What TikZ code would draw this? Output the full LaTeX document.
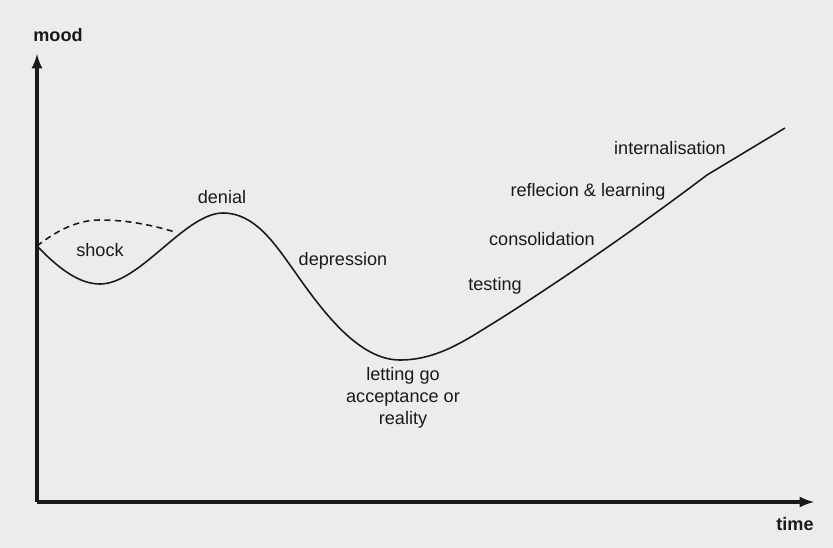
\documentclass[tikz,border=0pt]{standalone}
\usepackage{fontspec}
\setmainfont{Liberation Sans}
\usetikzlibrary{arrows}
\definecolor{paper}{HTML}{ECECEC}
\definecolor{ink}{HTML}{1A1A1A}

\begin{document}
\begin{tikzpicture}[
x=0.02cm, y=-0.02cm,
font=\fontsize{10.3}{12.4}\selectfont,
axis/.style={->,line width=1.8pt,>=latex,ink},
curve/.style={line width=0.9pt,ink},
phase/.style={align=center,inner sep=0pt,text=ink}
]
    % Background
    \fill [paper] (0,0) rectangle (833,548);
    \useasboundingbox (0,0) rectangle (833,548);

    % Draw axes
    \coordinate (origin) at (37,502);
    \coordinate (ytip) at (37,54);
    \coordinate (xtip) at (814,502);
    \draw [axis] (origin) -- (ytip);
    \draw [axis] (origin) -- (xtip);
    \node [phase] (ylabel) at (58,35) {\bfseries mood};
    \node [phase] (xlabel) at (795,524) {\bfseries time};

    % Change curve
    \draw [curve]
        (37,246) .. controls (60,270) and (80,284) .. (100,284)
        .. controls (140,284) and (185,213) .. (223,213)
        .. controls (255,213) and (275,244) .. (295,272)
        .. controls (325,315) and (360,360) .. (400,360)
        .. controls (440,360) and (470,337) .. (500,319)
        .. controls (580,268) and (650,218) .. (707,175)
        -- (785,128);
  	\draw [curve, dash pattern=on 3.5pt off 2.5pt]
        (37,246) .. controls (60,228) and (80,220) .. (100,220)
        .. controls (130,220) and (155,226) .. (175,232);

    % Phases
    \node [phase] (shock) at (100,250) {shock};
    \node [phase] (denial) at (222,197) {denial};
    \node [phase] (depression) at (343,261) {depression};
    \node [phase] (lettinggo) at (403,398) {letting go\\acceptance or\\reality};
    \node [phase] (testing) at (495,286) {testing};
    \node [phase] (consolidation) at (542,239) {consolidation};
    \node [phase] (reflection) at (588,192) {reflecion \& learning};
    \node [phase] (internal) at (670,148) {internalisation};

\end{tikzpicture}
\end{document}
